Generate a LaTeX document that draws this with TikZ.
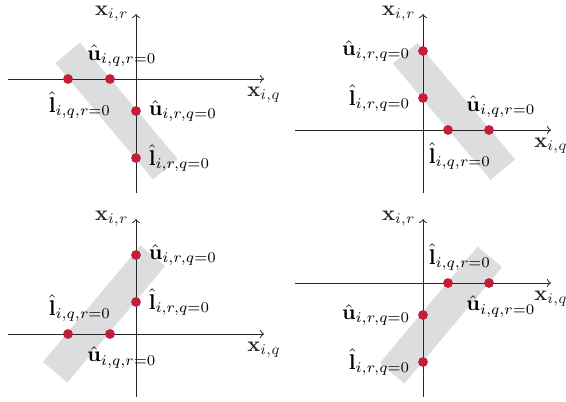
\documentclass[tikz,border=0pt]{standalone}
\usepackage{amsmath}
\usetikzlibrary{positioning}
\definecolor{dotred}{RGB}{196,30,58}
\definecolor{bandgray}{RGB}{220,221,223}
\tikzset{
  axis/.style={->, black!85, line width=0.45pt},
  band/.style={fill=bandgray, draw=none},
  dot/.style={circle, fill=dotred, inner sep=0pt, minimum size=4.6pt},
  note/.style={inner sep=1pt},
  node distance=2.3pt
}

\begin{document}
\begin{tikzpicture}[x=0.47pt, y=0.47pt]
  \useasboundingbox (0,0) rectangle (566,401);

  % top left
  \begin{scope}[shift={(136,322)}]
    \fill[band, shift={(-19.5,-32)}, rotate=-50] (-76,-16) rectangle (76,16);
    \coordinate (a1w) at (-128,0); \coordinate (a1e) at (128,0);
    \coordinate (a1s) at (0,-114); \coordinate (a1n) at (0,65);
    \draw[axis] (a1w) -- (a1e) node[below] (t1q) {$\mathbf{x}_{i,q}$};
    \draw[axis] (a1s) -- (a1n) node[left] (t1r) {$\mathbf{x}_{i,r}$};
    \node[dot] (d1lq) at (-68,0) {};
    \node[dot] (d1uq) at (-26,0) {};
    \node[dot] (d1ur) at (0,-32) {};
    \node[dot] (d1lr) at (0,-79) {};
    \node[note, above=of d1uq, xshift=5.6pt] (t1uq) {$\hat{\mathbf{u}}_{i,q,r=0}$};
    \node[note, below=of d1lq, xshift=5.6pt] (t1lq) {$\hat{\mathbf{l}}_{i,q,r=0}$};
    \node[note, right=of d1ur] (t1ur) {$\hat{\mathbf{u}}_{i,r,q=0}$};
    \node[note, right=of d1lr] (t1lr) {$\hat{\mathbf{l}}_{i,r,q=0}$};
  \end{scope}

  % top right
  \begin{scope}[shift={(423,271)}]
    \fill[band, shift={(31,18.5)}, rotate=-50] (-76,-16) rectangle (76,16);
    \coordinate (a2w) at (-128,0); \coordinate (a2e) at (128,0);
    \coordinate (a2s) at (0,-63); \coordinate (a2n) at (0,116);
    \draw[axis] (a2w) -- (a2e) node[below] (t2q) {$\mathbf{x}_{i,q}$};
    \draw[axis] (a2s) -- (a2n) node[left] (t2r) {$\mathbf{x}_{i,r}$};
    \node[dot] (d2lq) at (25,0) {};
    \node[dot] (d2uq) at (66,0) {};
    \node[dot] (d2lr) at (0,32) {};
    \node[dot] (d2ur) at (0,79) {};
    \node[note, above=of d2uq, xshift=5.6pt] (t2uq) {$\hat{\mathbf{u}}_{i,q,r=0}$};
    \node[note, below=of d2lq, xshift=5.6pt] (t2lq) {$\hat{\mathbf{l}}_{i,q,r=0}$};
    \node[note, left=of d2ur] (t2ur) {$\hat{\mathbf{u}}_{i,r,q=0}$};
    \node[note, left=of d2lr] (t2lr) {$\hat{\mathbf{l}}_{i,r,q=0}$};
  \end{scope}

  % bottom left
  \begin{scope}[shift={(136,67)}]
    \fill[band, shift={(-32,20)}, rotate=50] (-76,-16) rectangle (76,16);
    \coordinate (a3w) at (-128,0); \coordinate (a3e) at (128,0);
    \coordinate (a3s) at (0,-63); \coordinate (a3n) at (0,115);
    \draw[axis] (a3w) -- (a3e) node[below] (t3q) {$\mathbf{x}_{i,q}$};
    \draw[axis] (a3s) -- (a3n) node[left] (t3r) {$\mathbf{x}_{i,r}$};
    \node[dot] (d3lq) at (-68,0) {};
    \node[dot] (d3uq) at (-26,0) {};
    \node[dot] (d3lr) at (0,32) {};
    \node[dot] (d3ur) at (0,79) {};
    \node[note, above=of d3lq, xshift=5.6pt] (t3lq) {$\hat{\mathbf{l}}_{i,q,r=0}$};
    \node[note, below=of d3uq, xshift=5.6pt] (t3uq) {$\hat{\mathbf{u}}_{i,q,r=0}$};
    \node[note, right=of d3ur] (t3ur) {$\hat{\mathbf{u}}_{i,r,q=0}$};
    \node[note, right=of d3lr] (t3lr) {$\hat{\mathbf{l}}_{i,r,q=0}$};
  \end{scope}

  % bottom right
  \begin{scope}[shift={(423,118)}]
    \fill[band, shift={(18,-32)}, rotate=50] (-76,-16) rectangle (76,16);
    \coordinate (a4w) at (-128,0); \coordinate (a4e) at (128,0);
    \coordinate (a4s) at (0,-114); \coordinate (a4n) at (0,64);
    \draw[axis] (a4w) -- (a4e) node[below] (t4q) {$\mathbf{x}_{i,q}$};
    \draw[axis] (a4s) -- (a4n) node[left] (t4r) {$\mathbf{x}_{i,r}$};
    \node[dot] (d4lq) at (25,0) {};
    \node[dot] (d4uq) at (66,0) {};
    \node[dot] (d4ur) at (0,-32) {};
    \node[dot] (d4lr) at (0,-79) {};
    \node[note, above=of d4lq, xshift=5.6pt] (t4lq) {$\hat{\mathbf{l}}_{i,q,r=0}$};
    \node[note, below=of d4uq, xshift=5.6pt] (t4uq) {$\hat{\mathbf{u}}_{i,q,r=0}$};
    \node[note, left=of d4ur] (t4ur) {$\hat{\mathbf{u}}_{i,r,q=0}$};
    \node[note, left=of d4lr] (t4lr) {$\hat{\mathbf{l}}_{i,r,q=0}$};
  \end{scope}
\end{tikzpicture}
\end{document}
